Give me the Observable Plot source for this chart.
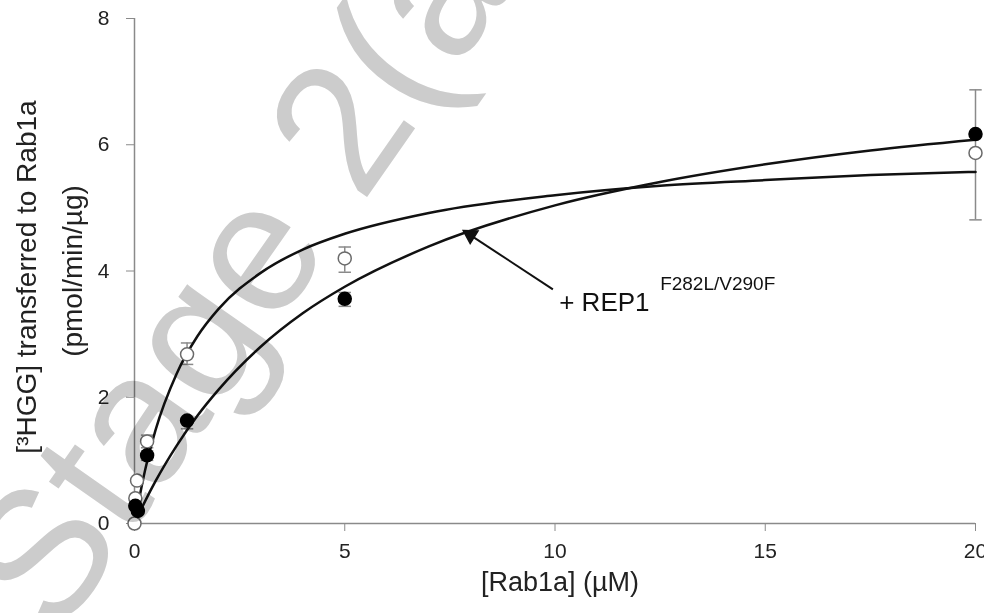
<!DOCTYPE html>
<html>
<head>
<meta charset="utf-8">
<script src="https://cdn.jsdelivr.net/npm/d3@7"></script>
<script src="https://cdn.jsdelivr.net/npm/@observablehq/plot@0.6"></script>
<style>
  html, body { margin: 0; padding: 0; background: #fff; }
  #chart { width: 984px; height: 613px; overflow: hidden; }
</style>
</head>
<body>
<div id="chart"></div>
<script>
// ---- data ----
const xTicks = [0, 5, 10, 15, 20];
const yTicks = [0, 2, 4, 6, 8];

// open circles (wild-type REP1)
const openX = [0, 0.02, 0.06, 0.3, 1.25, 5, 20];
const openY = [0, 0.4, 0.68, 1.3, 2.68, 4.2, 5.87];
// filled circles (+ REP1 F282L/V290F)
const filledX = [0.02, 0.08, 0.3, 1.25, 5, 20];
const filledY = [0.28, 0.2, 1.08, 1.63, 3.56, 6.17];

// error bars
const openErrX = [0.3, 1.25, 5, 20];
const openErrLo = [1.2, 2.52, 3.98, 4.81];
const openErrHi = [1.4, 2.86, 4.38, 6.87];
const filledErrX = [0.3, 1.25, 5];
const filledErrLo = [1.0, 1.5, 3.44];
const filledErrHi = [1.15, 1.68, 3.66];

// fitted curves
const fitX = [0, 0.25, 0.5, 1, 1.5, 2, 3, 4, 5, 7, 10, 12.5, 15, 17.5, 20];
const openFitY = [0, 0.84, 1.48, 2.37, 2.97, 3.40, 3.97, 4.34, 4.59, 4.92, 5.20, 5.35, 5.44, 5.52, 5.57];
const filledFitY = [0, 0.35, 0.67, 1.23, 1.71, 2.12, 2.80, 3.33, 3.75, 4.39, 5.04, 5.41, 5.69, 5.91, 6.08];

// texts
const xLabel = "[Rab1a] (\u00B5M)";
const yLabel1 = "[\u00B3HGG] transferred to Rab1a";
const yLabel2 = "(pmol/min/\u00B5g)";
const annoMain = "+ REP1";
const annoSup = "F282L/V290F";
const watermarkText = "Stage 2(a";

// annotation anchors (data units)
const annoPos = {x: 10.1, y: 3.5};
const supPos = {x: 12.5, y: 3.8};
const arrowTail = {x: 9.95, y: 3.71};
const arrowTip = {x: 7.85, y: 4.62};
const wmPos = {x: -1.85, y: -1.85};

// ---- build tables ----
const openPts = openX.map((x, i) => ({x, y: openY[i]}));
const filledPts = filledX.map((x, i) => ({x, y: filledY[i]}));
const errs = [
  ...openErrX.map((x, i) => ({x, lo: openErrLo[i], hi: openErrHi[i]})),
  ...filledErrX.map((x, i) => ({x, lo: filledErrLo[i], hi: filledErrHi[i]}))
];
const caps = errs.flatMap(d => [{x: d.x, y: d.lo}, {x: d.x, y: d.hi}]);
const openFit = fitX.map((x, i) => ({x, y: openFitY[i]}));
const filledFit = fitX.map((x, i) => ({x, y: filledFitY[i]}));

const capSymbol = {
  draw(context, size) {
    const w = Math.sqrt(size) / 2;
    context.moveTo(-w, 0);
    context.lineTo(w, 0);
  }
};

const font = "'Liberation Sans', Arial, Helvetica, sans-serif";

const chart = Plot.plot({
  width: 984,
  height: 613,
  marginLeft: 134,
  marginRight: 9,
  marginTop: 18,
  marginBottom: 90,
  x: {domain: [0, 20]},
  y: {domain: [0, 8]},
  style: {fontFamily: font, background: "white", overflow: "visible"},
  marks: [
    // axes lines
    Plot.ruleY([0], {x1: 0, x2: 20, stroke: "#8a8a8a", strokeWidth: 1.5}),
    Plot.ruleX([0], {y1: 0, y2: 8, stroke: "#8a8a8a", strokeWidth: 1.5}),
    Plot.axisX(xTicks, {tickSize: 8, tickPadding: 12, fontSize: 21, stroke: "#8a8a8a", fill: "#222", label: null, tickFormat: d => String(d)}),
    Plot.axisY(yTicks, {tickSize: 8, tickPadding: 17, fontSize: 21, stroke: "#8a8a8a", fill: "#222", label: null, tickFormat: d => String(d)}),

    // error bars
    Plot.ruleX(errs, {x: "x", y1: "lo", y2: "hi", stroke: "#8a8a8a", strokeWidth: 1.5}),
    Plot.dot(caps, {x: "x", y: "y", symbol: capSymbol, r: 7, stroke: "#8a8a8a", strokeWidth: 1.5, fill: "none"}),

    // fitted curves
    Plot.line(openFit, {x: "x", y: "y", curve: "monotone-x", stroke: "#111", strokeWidth: 2.5}),
    Plot.line(filledFit, {x: "x", y: "y", curve: "monotone-x", stroke: "#111", strokeWidth: 2.5}),

    // points
    Plot.dot(openPts, {x: "x", y: "y", r: 6.5, fill: "white", stroke: "#6a6a6a", strokeWidth: 1.5}),
    Plot.dot(filledPts, {x: "x", y: "y", r: 6.5, fill: "#000", stroke: "#000"}),

    // annotation
    Plot.link([0], {x1: arrowTail.x, y1: arrowTail.y, x2: arrowTip.x + 0.2, y2: arrowTip.y - 0.08, stroke: "#111", strokeWidth: 2}),
    Plot.dot([0], {x: arrowTip.x + 0.14, y: arrowTip.y - 0.05, symbol: "triangle", r: 5.5, rotate: -58, fill: "#111", stroke: "#111"}),
    Plot.text([annoMain], {x: annoPos.x, y: annoPos.y, text: d => d, textAnchor: "start", fontSize: 26, fill: "#111"}),
    Plot.text([annoSup], {x: supPos.x, y: supPos.y, text: d => d, textAnchor: "start", fontSize: 19, fill: "#111"}),

    // axis titles
    Plot.text([xLabel], {frameAnchor: "bottom", dx: 5, dy: 67, text: d => d, fontSize: 27, fill: "#222"}),
    Plot.text([yLabel1], {frameAnchor: "left", dx: -107, dy: 6, rotate: -90, textAnchor: "middle", text: d => d, fontSize: 28, fill: "#222"}),
    Plot.text([yLabel2], {frameAnchor: "left", dx: -61, dy: 0, rotate: -90, textAnchor: "middle", text: d => d, fontSize: 28, fill: "#222"}),

    // watermark
    Plot.text([watermarkText], {x: wmPos.x, y: wmPos.y, text: d => d, textAnchor: "start", lineAnchor: "bottom", rotate: -55, fontSize: 184, fill: "#cccccc", mixBlendMode: "multiply"})
  ]
});

document.getElementById("chart").appendChild(chart);
</script>
</body>
</html>
